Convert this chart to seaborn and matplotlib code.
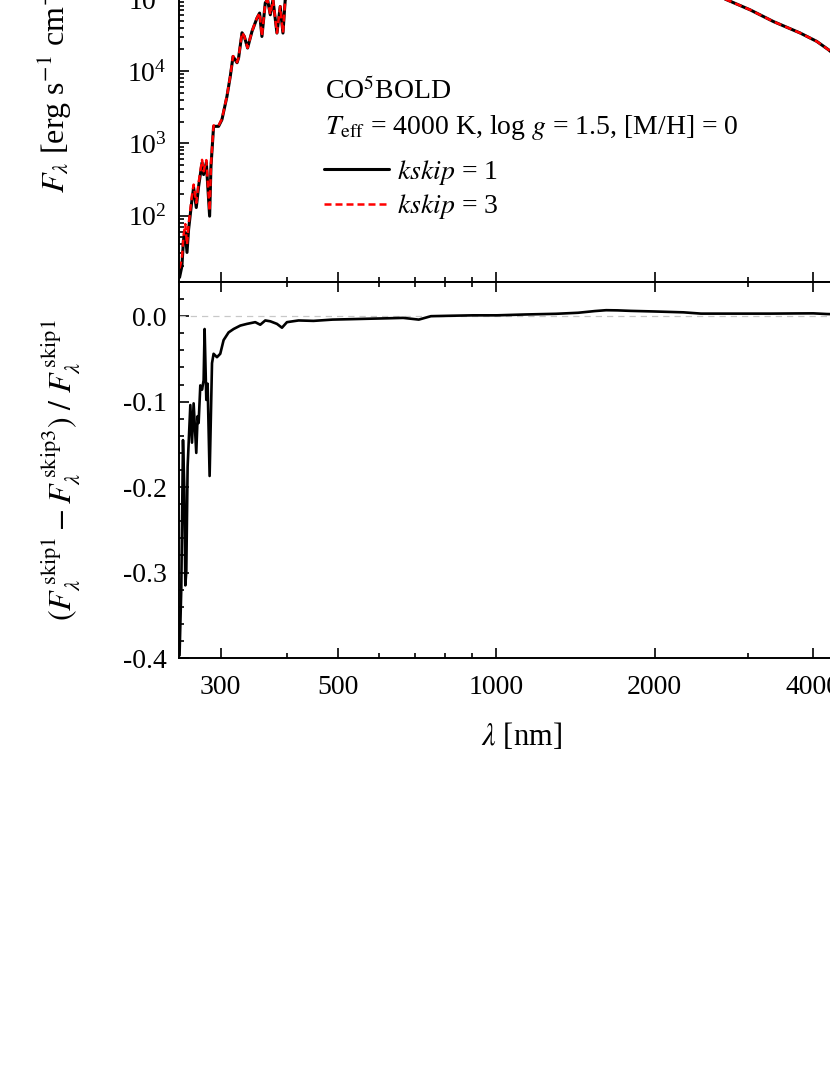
import seaborn as sns
import matplotlib.pyplot as plt
from matplotlib.ticker import (FixedLocator, NullFormatter, MultipleLocator,
                               FormatStrFormatter, LogLocator, LogFormatterMathtext)

# values
wl_flux = [250.6, 253.2, 255.0, 257.0, 258.9, 260.7, 264.6, 266.5, 269.6, 272.4,
           276.5, 278.4, 281.7, 285.8, 287.5, 290.8, 297.2, 301.6, 308.3, 312.8,
           316.6, 322.2, 324.4, 329.3, 332.6, 337.4, 343.9, 351.5, 355.6, 359.2,
           364.5, 368.2, 372.6, 377.0, 383.6, 389.1, 393.8, 397.7, 410, 430,
           450, 480, 520, 580, 650, 750, 850, 1000, 1200, 1500,
           1800, 2100, 2400, 2740, 3034, 3359, 3776, 4060, 4272, 4500, 5000]
flux_kskip1 = [13.9, 19.9, 46.6, 58.2, 30.8, 64, 166, 244, 129, 254,
               541, 369, 541, 98, 481, 1718, 1718, 2128, 4467, 8450,
               15960, 13060, 15310, 33960, 30190, 20890, 35400, 54200, 63640, 30190,
               88300, 97200, 60260, 97200, 33650, 78530, 33650, 97200, 1.3e5, 2.0e5,
               2.8e5, 3.8e5, 5.2e5, 7.5e5, 9.5e5, 1.1e6, 1.15e6, 1.1e6, 9.0e5, 6.0e5,
               3.8e5, 2.5e5, 1.5e5, 9.72e4, 7.06e4, 4.86e4, 3.37e4, 2.58e4, 1.98e4, 1.45e4, 1.0e4]
flux_kskip3 = [18.5, 25.8, 53.0, 76.0, 39.5, 75, 190, 268, 150, 284,
               590, 410, 585, 116, 510, 1770, 1760, 2170, 4540, 8560,
               16150, 13200, 15450, 34200, 30400, 21050, 35600, 54500, 63900, 30350,
               88600, 97500, 60500, 97500, 33800, 78800, 33800, 97500, 1.3e5, 2.0e5,
               2.8e5, 3.8e5, 5.2e5, 7.5e5, 9.5e5, 1.1e6, 1.15e6, 1.1e6, 9.0e5, 6.0e5,
               3.8e5, 2.5e5, 1.5e5, 9.72e4, 7.06e4, 4.86e4, 3.37e4, 2.58e4, 1.98e4, 1.45e4, 1.0e4]

wl_diff = [250.6, 252.5, 254.4, 255.9, 257.0, 258.1, 259.6, 262.7, 264.6, 266.5,
           269.6, 271.2, 272.4, 274.4, 276.5, 278.4, 279.6, 281.7, 283.3, 285.8,
           288.8, 290.8, 295.1, 299.4, 303.8, 310.5, 317.4, 326.8, 336.5, 348.9,
           356.6, 364.5, 372.6, 383.6, 392.1, 400.7, 421.6, 450, 489, 530,
           571, 620, 666, 713, 752, 820, 904, 1003, 1137, 1300,
           1431, 1540, 1617, 1700, 1802, 2000, 2268, 2448, 2800, 3322,
           3700, 4000, 4250, 4600, 5000]
rel_diff = [-0.397, -0.319, -0.145, -0.203, -0.315, -0.299, -0.176, -0.104, -0.148, -0.102,
            -0.160, -0.117, -0.125, -0.081, -0.086, -0.075, -0.015, -0.098, -0.079, -0.187,
            -0.055, -0.044, -0.048, -0.044, -0.028, -0.019, -0.015, -0.011, -0.009, -0.007,
            -0.010, -0.005, -0.006, -0.009, -0.0135, -0.007, -0.005, -0.0055, -0.004, -0.0035,
            -0.003, -0.0025, -0.002, -0.004, 0.0, 0.0005, 0.001, 0.001, 0.002, 0.0028,
            0.004, 0.006, 0.007, 0.0068, 0.0062, 0.0055, 0.0045, 0.003, 0.003, 0.003,
            0.0032, 0.0033, 0.0025, 0.002, 0.002]

x_major = [300, 500, 1000, 2000, 4000]
x_minor = [400, 600, 700, 800, 900, 3000]

sns.set_theme(style='ticks')
plt.rcParams.update({
    'font.family': 'serif',
    'font.serif': ['Liberation Serif', 'DejaVu Serif'],
    'mathtext.fontset': 'stix',
    'axes.unicode_minus': False,
    'axes.linewidth': 1.4,
    'axes.edgecolor': 'black',
    'text.color': 'black',
    'axes.labelcolor': 'black',
    'xtick.color': 'black',
    'ytick.color': 'black',
})

W, H = 830, 1075
fig = plt.figure(figsize=(W / 100, H / 100), dpi=100)


def axes_px(left, top, right, bottom):
    # figure is a crop: axes may run past the edges
    return fig.add_axes([left / W, 1 - bottom / H, (right - left) / W, (bottom - top) / H])


ax_top = axes_px(179, -145.5, 864.4, 282)
ax_bot = axes_px(179, 282, 864.4, 658)

# top panel: spectra
sns.lineplot(x=wl_flux, y=flux_kskip1, ax=ax_top, color='black', lw=2.2,
             estimator=None, sort=False, label=r'$kskip$ = 1')
sns.lineplot(x=wl_flux, y=flux_kskip3, ax=ax_top, color='red', lw=1.8,
             estimator=None, sort=False, label=r'$kskip$ = 3', dashes=False)
ax_top.lines[1].set_dashes((2.8, 1.6))
ax_top.set_xscale('log')
ax_top.set_yscale('log')
ax_top.set_xlim(250, 5000)
ax_top.set_ylim(12, 1e7)
ax_top.yaxis.set_major_locator(LogLocator(base=10))
ax_top.yaxis.set_minor_locator(LogLocator(base=10, subs=range(2, 10)))
ax_top.yaxis.set_major_formatter(LogFormatterMathtext())
ax_top.yaxis.set_minor_formatter(NullFormatter())
ax_top.set_ylabel(r'$F_\lambda$ [erg s$^{-1}$ cm$^{-2}$ $\mathrm{\AA}^{-1}$]', fontsize=23)
ax_top.yaxis.set_label_coords(-0.155, 0.542)

leg = ax_top.legend(loc='upper left', bbox_to_anchor=(324 / W, 1 - 158 / H),
                    bbox_transform=fig.transFigure, frameon=False, fontsize=20,
                    borderpad=0, borderaxespad=0, handlelength=2.34,
                    handletextpad=0.3, labelspacing=0.19)
fig.text(325 / W, 1 - 99.3 / H, r'CO$^5$BOLD', fontsize=20, va='baseline')
fig.text(325 / W, 1 - 134 / H,
         r'$T_\mathrm{eff}$ = 4000 K, log $g$ = 1.5, [M/H] = 0', fontsize=20, va='baseline')

# bottom panel: relative difference
ax_bot.axhline(0, color='#c8c8c8', lw=0.9, ls=(0, (5, 4)), zorder=1)
sns.lineplot(x=wl_diff, y=rel_diff, ax=ax_bot, color='black', lw=1.9,
             estimator=None, sort=False)
ax_bot.set_xscale('log')
ax_bot.set_xlim(250, 5000)
ax_bot.set_ylim(-0.4, 0.04)
ax_bot.yaxis.set_major_locator(MultipleLocator(0.1))
ax_bot.yaxis.set_minor_locator(MultipleLocator(0.02))
ax_bot.yaxis.set_major_formatter(FormatStrFormatter('%.1f'))
ax_bot.set_ylabel(r'$(F_\lambda^{\,\mathrm{skip1}} - F_\lambda^{\,\mathrm{skip3}})\ /\ F_\lambda^{\,\mathrm{skip1}}$',
                  fontsize=23)
ax_bot.yaxis.set_label_coords(-0.1415, 0.5)
ax_bot.set_xlabel(r'$\lambda$ [nm]', fontsize=22)
ax_bot.xaxis.set_label_coords(0.5, -0.168)

for ax in (ax_top, ax_bot):
    ax.xaxis.set_major_locator(FixedLocator(x_major))
    ax.xaxis.set_minor_locator(FixedLocator(x_minor))
    ax.xaxis.set_major_formatter(FormatStrFormatter('%d'))
    ax.xaxis.set_minor_formatter(NullFormatter())
    ax.tick_params(which='both', direction='in', top=True, right=True,
                   width=1.2, labelsize=20)
    ax.tick_params(which='major', length=7, pad=9)
    ax.tick_params(which='minor', length=3.5)
    ax.tick_params(axis='x', which='major', pad=12)
ax_top.tick_params(axis='x', labelbottom=False)

fig.savefig('out.png', dpi=100)
